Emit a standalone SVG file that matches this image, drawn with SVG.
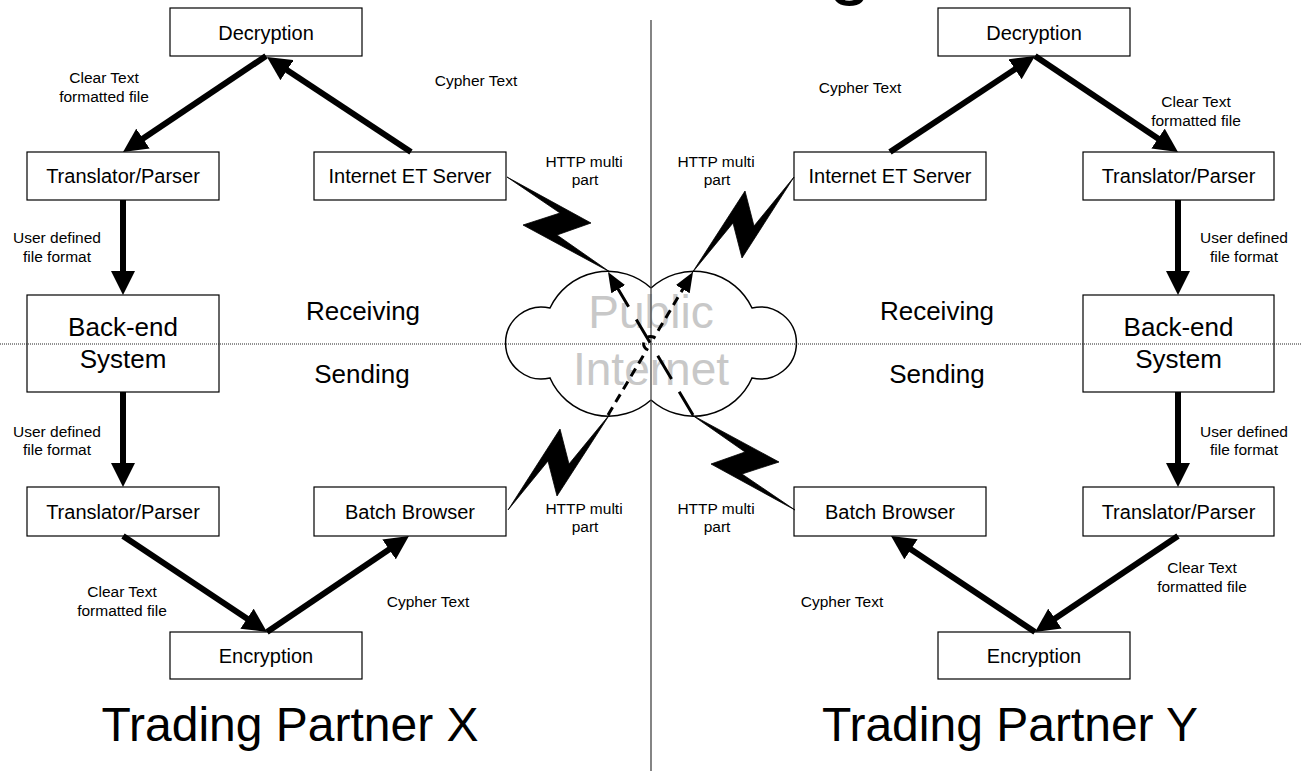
<svg xmlns="http://www.w3.org/2000/svg" width="1302" height="771" viewBox="0 0 1302 771">
<style>
.box{fill:#fff;stroke:#000;stroke-width:1.2}
text{font-family:"Liberation Sans",Arial,sans-serif;text-anchor:middle;fill:#000}
.t20{font-size:20px}
.t16{font-size:15.5px}
.t26{font-size:26px}
.t48{font-size:48px}
.pub{font-size:46px;fill:#c8c8c8}
.thick{stroke:#000;stroke-width:6;fill:none;marker-end:url(#ah)}
.thin{stroke:#000;stroke-width:3;fill:none;marker-end:url(#ahs)}
.bolt{fill:#000;stroke:#000;stroke-width:0.8;stroke-linejoin:miter}
.cloud{fill:none;stroke:#000;stroke-width:1.5}
</style>
<defs>
<marker id="ah" markerUnits="userSpaceOnUse" markerWidth="24" markerHeight="24" refX="12" refY="12" orient="auto" viewBox="0 0 24 24">
<path d="M0,0 L24,12 L0,24 z" fill="#000"/>
</marker>
<marker id="ahs" markerUnits="userSpaceOnUse" markerWidth="20" markerHeight="16" refX="10" refY="8" orient="auto" viewBox="0 0 20 16">
<path d="M0,0 L20,8 L0,16 z" fill="#000"/>
</marker>
</defs>
<rect width="1302" height="771" fill="#fff"/>
<text x="850" y="-10" style="font-size:78px">g</text>
<g id="cloud">
<path class="cloud" d="M651,288 A64,64 0 0,0 550,308 A36,36 0 1,0 550,378 A64,64 0 0,0 651,400"/>
<path class="cloud" d="M651,288 A64,64 0 0,1 752,308 A36,36 0 1,1 752,378 A64,64 0 0,1 651,400"/>
<text class="pub" x="651" y="328">Public</text>
<text class="pub" x="651" y="385">Internet</text>
</g>
<g id="dec-x"><rect class="box" x="170" y="8" width="192" height="48"/><text class="t20" x="266" y="39.5">Decryption</text></g>
<g id="tp1-x"><rect class="box" x="27" y="152" width="192" height="48"/><text class="t20" x="123" y="183">Translator/Parser</text></g>
<g id="iet-x"><rect class="box" x="314" y="152" width="192" height="48"/><text class="t20" x="410" y="183">Internet ET Server</text></g>
<g id="be-x"><rect class="box" x="27" y="295" width="192" height="97"/><text class="t26" x="123" y="336">Back-end</text><text class="t26" x="123" y="368">System</text></g>
<g id="tp2-x"><rect class="box" x="27" y="487" width="192" height="49"/><text class="t20" x="123" y="518.5">Translator/Parser</text></g>
<g id="bb-x"><rect class="box" x="314" y="487" width="192" height="49"/><text class="t20" x="410" y="518.5">Batch Browser</text></g>
<g id="enc-x"><rect class="box" x="170" y="632" width="192" height="47"/><text class="t20" x="266" y="662.5">Encryption</text></g>
<g id="dec-y"><rect class="box" x="938" y="8" width="192" height="48"/><text class="t20" x="1034" y="39.5">Decryption</text></g>
<g id="iet-y"><rect class="box" x="794" y="152" width="192" height="48"/><text class="t20" x="890" y="183">Internet ET Server</text></g>
<g id="tp1-y"><rect class="box" x="1083" y="152" width="191" height="48"/><text class="t20" x="1178.5" y="183">Translator/Parser</text></g>
<g id="be-y"><rect class="box" x="1083" y="295" width="191" height="97"/><text class="t26" x="1178.5" y="336">Back-end</text><text class="t26" x="1178.5" y="368">System</text></g>
<g id="bb-y"><rect class="box" x="794" y="487" width="192" height="49"/><text class="t20" x="890" y="518.5">Batch Browser</text></g>
<g id="tp2-y"><rect class="box" x="1083" y="487" width="191" height="49"/><text class="t20" x="1178.5" y="518.5">Translator/Parser</text></g>
<g id="enc-y"><rect class="box" x="938" y="632" width="192" height="47"/><text class="t20" x="1034" y="662.5">Encryption</text></g>
<g id="separators">
<line x1="651" y1="20" x2="651" y2="771" stroke="#333" stroke-width="1.2"/>
<line x1="0" y1="344" x2="1302" y2="344" stroke="#222" stroke-width="1" stroke-dasharray="1,1"/>
</g>
<g id="labels">
<text class="t26" x="363" y="320">Receiving</text>
<text class="t26" x="362" y="383">Sending</text>
<text class="t26" x="937" y="320">Receiving</text>
<text class="t26" x="937" y="383">Sending</text>
<text class="t48" x="290" y="741">Trading Partner X</text>
<text class="t48" x="1010" y="741">Trading Partner Y</text>
<text class="t16" x="104" y="83">Clear Text</text><text class="t16" x="104" y="102">formatted file</text>
<text class="t16" x="476" y="86">Cypher Text</text>
<text class="t16" x="584" y="167">HTTP multi</text><text class="t16" x="585" y="185">part</text>
<text class="t16" x="57" y="243">User defined</text><text class="t16" x="57" y="262">file format</text>
<text class="t16" x="57" y="437">User defined</text><text class="t16" x="57" y="455">file format</text>
<text class="t16" x="584" y="514">HTTP multi</text><text class="t16" x="585" y="532">part</text>
<text class="t16" x="122" y="597">Clear Text</text><text class="t16" x="122" y="616">formatted file</text>
<text class="t16" x="428" y="607">Cypher Text</text>
<text class="t16" x="860" y="93">Cypher Text</text>
<text class="t16" x="1196" y="107">Clear Text</text><text class="t16" x="1196" y="126">formatted file</text>
<text class="t16" x="716" y="167">HTTP multi</text><text class="t16" x="717" y="185">part</text>
<text class="t16" x="1244" y="243">User defined</text><text class="t16" x="1244" y="262">file format</text>
<text class="t16" x="1244" y="437">User defined</text><text class="t16" x="1244" y="455">file format</text>
<text class="t16" x="716" y="514">HTTP multi</text><text class="t16" x="717" y="532">part</text>
<text class="t16" x="1202" y="573">Clear Text</text><text class="t16" x="1202" y="592">formatted file</text>
<text class="t16" x="842" y="607">Cypher Text</text>
</g>
<g id="connectors">
<line class="thick" x1="266" y1="56" x2="133" y2="145.3"/>
<line class="thick" x1="411" y1="152" x2="277" y2="63.6"/>
<line class="thick" x1="123" y1="200" x2="123" y2="283"/>
<line class="thick" x1="123" y1="392" x2="123" y2="475"/>
<line class="thick" x1="123" y1="536" x2="257" y2="625.3"/>
<line class="thick" x1="267" y1="632" x2="399" y2="542.7"/>
<line class="thick" x1="890" y1="152" x2="1025" y2="62.6"/>
<line class="thick" x1="1035" y1="56" x2="1168" y2="145.3"/>
<line class="thick" x1="1178" y1="200" x2="1178" y2="283"/>
<line class="thick" x1="1178" y1="392" x2="1178" y2="475"/>
<line class="thick" x1="1178" y1="536" x2="1045" y2="625.3"/>
<line class="thick" x1="1035" y1="632" x2="901" y2="542.7"/>
<polygon class="bolt" points="507,177 591,223 557,235 610,272 523,225 560,213"/>
<polygon class="bolt" points="692,273 745,191 754,226 794,177 742,258 733,223"/>
<polygon class="bolt" points="610,414 557,496 548,461 508,510 560,429 569,464"/>
<polygon class="bolt" points="795,510 711,464 745,452 692,415 779,462 742,474"/>
<path class="thin" d="M693,415 L613.1,280.6" stroke-dasharray="27,15"/>
<path class="thin" d="M608,415 L646.9,349.5 A7,7 0 0,1 654.1,337.5 L687.9,280.6" stroke-dasharray="9,6"/>
</g>
</svg>
